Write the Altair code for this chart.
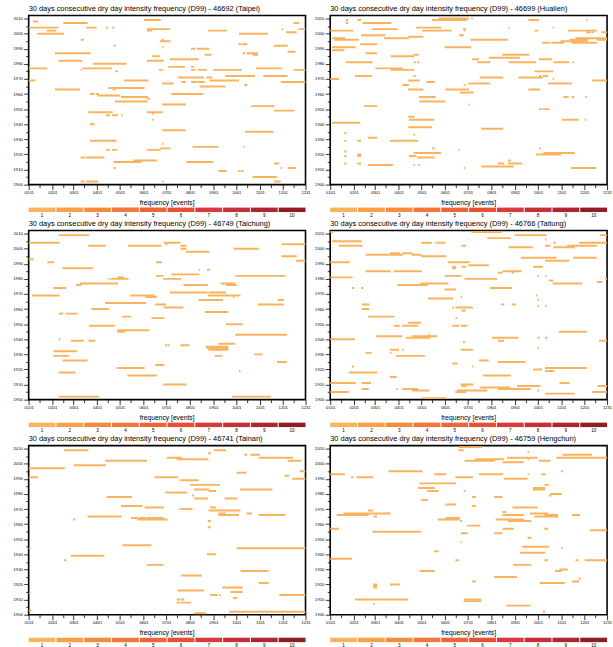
import altair as alt
import pandas as pd

FONT = "Liberation Sans"

# Calendar axis: first day of each month (day of year) and mid-month minor ticks
MONTH_DAYS = [1, 32, 60, 91, 121, 152, 182, 213, 244, 274, 305, 335, 365]
MONTH_LABELS = ["0101", "0201", "0301", "0401", "0501", "0601", "0701",
                "0801", "0901", "1001", "1101", "1201", "1231"]
MID_DAYS = [15, 46, 74, 105, 135, 166, 196, 227, 258, 288, 319, 349]
YEAR_TICKS = list(range(1900, 2011, 5))

# Frequency colour bar
LEVELS = list(range(1, 11))
LEVEL_COLORS = ["#fab35d", "#f89f47", "#f48b3f", "#f1773b", "#ed6438",
                "#e65036", "#d93a3b", "#c52f35", "#ae2530", "#8f1d22"]
BAR_COLOR = LEVEL_COLORS[0]

# Dry spells per station: (year, first day of year, last day of year)
TAIPEI = [
    (2009, 153, 174), (2008, 7, 13), (2007, 47, 78), (2007, 350, 356), (2004, 1, 40), (2004, 77, 90),
    (2004, 103, 105), (2004, 111, 113), (2003, 157, 186), (2003, 334, 335), (2003, 356, 365),
    (2002, 25, 37), (2002, 157, 163), (2002, 237, 261), (2001, 340, 353), (2000, 13, 47),
    (2000, 278, 315), (1996, 70, 73), (1996, 176, 178), (1995, 174, 187), (1993, 277, 280),
    (1993, 282, 288), (1992, 113, 115), (1992, 324, 341), (1991, 177, 178), (1990, 215, 220),
    (1990, 223, 238), (1988, 342, 351), (1987, 36, 82), (1987, 283, 285), (1987, 288, 302),
    (1986, 233, 241), (1986, 296, 302), (1985, 164, 173), (1983, 187, 224), (1982, 41, 71),
    (1982, 157, 178), (1980, 86, 129), (1978, 185, 206), (1978, 215, 218), (1977, 1, 25),
    (1977, 72, 110), (1977, 300, 334), (1976, 70, 71), (1976, 173, 177), (1976, 215, 220),
    (1976, 224, 235), (1976, 244, 281), (1976, 350, 365), (1975, 115, 118), (1972, 260, 298),
    (1972, 310, 341), (1971, 198, 231), (1971, 235, 242), (1969, 1, 9), (1969, 127, 158),
    (1969, 240, 277), (1968, 202, 207), (1968, 215, 222), (1968, 224, 232), (1968, 333, 365),
    (1967, 177, 191), (1966, 285, 288), (1965, 226, 259), (1964, 106, 108), (1964, 109, 153),
    (1963, 36, 68), (1963, 112, 115), (1960, 82, 87), (1960, 90, 93), (1960, 189, 230),
    (1959, 92, 121), (1958, 123, 157), (1957, 157, 160), (1955, 115, 157), (1953, 177, 207),
    (1952, 294, 324), (1949, 324, 350), (1948, 80, 111), (1948, 157, 177), (1947, 164, 165),
    (1946, 103, 107), (1946, 111, 118), (1946, 123, 124), (1943, 164, 165), (1940, 82, 87),
    (1936, 177, 207), (1935, 286, 322), (1929, 82, 116), (1927, 177, 178), (1925, 217, 250),
    (1925, 284, 285), (1924, 174, 187), (1923, 103, 107), (1923, 111, 117), (1923, 157, 174),
    (1918, 70, 75), (1918, 77, 100), (1916, 139, 169), (1915, 113, 149), (1915, 209, 243),
    (1914, 324, 330), (1911, 113, 115), (1911, 333, 334), (1911, 342, 352), (1909, 251, 261),
    (1909, 277, 279), (1909, 281, 283), (1905, 296, 327), (1902, 70, 74), (1902, 77, 92),
    (1902, 177, 178), (1902, 324, 332),
]

HUALIEN = [
    (2010, 144, 183), (2010, 187, 188), (2009, 22, 24), (2009, 37, 41), (2009, 135, 180),
    (2009, 262, 275), (2009, 338, 339), (2007, 22, 24), (2007, 44, 81), (2004, 114, 147),
    (2004, 235, 236), (2004, 294, 295), (2003, 56, 89), (2003, 176, 179), (2002, 1, 31),
    (2002, 122, 160), (2002, 177, 178), (2002, 270, 274), (2002, 314, 351), (2001, 338, 343),
    (2001, 345, 347), (2001, 358, 365), (1999, 42, 73), (1999, 171, 176), (1998, 104, 123),
    (1997, 4, 20), (1997, 72, 104), (1997, 324, 365), (1996, 7, 38), (1996, 186, 234),
    (1996, 316, 340), (1996, 352, 365), (1995, 304, 339), (1994, 280, 289), (1994, 292, 308),
    (1994, 319, 351), (1993, 41, 62), (1991, 4, 34), (1991, 152, 186), (1989, 4, 19),
    (1987, 48, 62), (1986, 111, 113), (1986, 114, 117), (1986, 228, 262), (1985, 81, 111),
    (1984, 210, 250), (1983, 188, 196), (1983, 276, 292), (1981, 22, 56), (1981, 111, 113),
    (1981, 116, 118), (1981, 195, 211), (1981, 236, 271), (1981, 295, 315), (1981, 320, 321),
    (1977, 61, 96), (1976, 81, 111), (1975, 270, 294), (1972, 34, 55), (1972, 111, 113),
    (1972, 276, 278), (1972, 281, 287), (1971, 198, 228), (1971, 249, 280), (1970, 1, 12),
    (1970, 294, 295), (1969, 104, 118), (1969, 346, 365), (1968, 128, 138), (1967, 183, 211),
    (1967, 288, 318), (1966, 96, 104), (1966, 177, 178), (1963, 104, 123), (1963, 153, 183),
    (1963, 262, 276), (1961, 172, 189), (1958, 118, 139), (1958, 308, 314), (1958, 319, 321),
    (1958, 337, 338), (1955, 119, 152), (1953, 183, 184), (1952, 46, 62), (1950, 276, 279),
    (1950, 281, 289), (1945, 104, 111), (1943, 105, 137), (1943, 306, 327), (1943, 336, 337),
    (1941, 4, 40), (1938, 104, 134), (1937, 200, 228), (1934, 20, 22), (1933, 111, 112),
    (1931, 51, 62), (1929, 20, 22), (1929, 37, 41), (1929, 80, 116), (1924, 135, 138),
    (1924, 276, 278), (1923, 170, 171), (1922, 20, 22), (1921, 111, 146), (1921, 282, 322),
    (1920, 37, 41), (1920, 272, 304), (1919, 20, 22), (1919, 37, 41), (1919, 105, 114),
    (1918, 116, 138), (1916, 235, 238), (1914, 20, 22), (1914, 37, 41), (1914, 222, 229),
    (1914, 235, 253), (1913, 51, 83), (1913, 111, 112), (1913, 117, 118), (1912, 200, 242),
    (1911, 177, 178), (1911, 318, 350),
]

TAICHUNG = [
    (2009, 41, 80), (2004, 1, 41), (2004, 179, 200), (2003, 181, 183), (2003, 334, 365),
    (2002, 80, 102), (2002, 132, 175), (2002, 201, 208), (2000, 201, 208), (2000, 271, 303),
    (1998, 208, 238), (1995, 334, 353), (1993, 1, 7), (1992, 353, 365), (1991, 26, 34),
    (1991, 169, 176), (1987, 46, 85), (1986, 225, 226), (1986, 236, 239), (1983, 189, 225),
    (1982, 169, 178), (1982, 273, 338), (1981, 118, 126), (1980, 106, 107), (1980, 109, 132),
    (1980, 178, 201), (1977, 69, 118), (1977, 254, 272), (1976, 64, 70), (1976, 205, 236),
    (1976, 261, 274), (1974, 34, 50), (1971, 187, 236), (1971, 238, 260), (1969, 6, 41),
    (1969, 135, 166), (1969, 237, 279), (1968, 155, 169), (1968, 270, 271), (1966, 225, 256),
    (1966, 329, 336), (1964, 102, 155), (1963, 168, 181), (1963, 303, 336), (1961, 179, 202),
    (1961, 203, 204), (1960, 84, 106), (1958, 233, 263), (1957, 41, 46), (1957, 50, 65),
    (1955, 124, 135), (1954, 163, 179), (1950, 261, 282), (1949, 81, 114), (1946, 118, 159),
    (1945, 118, 127), (1943, 273, 340), (1940, 41, 42), (1939, 57, 73), (1939, 80, 88),
    (1937, 251, 272), (1936, 181, 183), (1936, 185, 186), (1936, 201, 212), (1935, 234, 263),
    (1934, 236, 263), (1933, 238, 263), (1932, 34, 64), (1930, 298, 308), (1929, 34, 54),
    (1929, 246, 255), (1926, 46, 78), (1925, 328, 340), (1923, 168, 179), (1921, 117, 153),
    (1919, 278, 279), (1918, 41, 62), (1916, 131, 169), (1910, 178, 208), (1902, 41, 93),
    (1902, 269, 319),
]

TAITUNG = [
    (2011, 1, 4), (2011, 187, 226), (2009, 244, 285), (2009, 356, 365), (2007, 208, 238),
    (2006, 284, 285), (2005, 4, 42), (2004, 121, 134), (2004, 139, 140), (2004, 142, 152),
    (2004, 295, 297), (2004, 329, 365), (2002, 13, 43), (2002, 174, 179), (2002, 284, 290),
    (2002, 313, 351), (2001, 236, 267), (2001, 295, 322), (1997, 80, 92), (1997, 96, 109),
    (1996, 48, 96), (1996, 109, 121), (1995, 121, 153), (1994, 252, 298), (1994, 321, 351),
    (1992, 284, 315), (1991, 1, 26), (1991, 156, 184), (1989, 183, 209), (1988, 162, 166),
    (1988, 174, 179), (1988, 268, 280), (1987, 162, 166), (1985, 48, 80), (1985, 85, 121),
    (1985, 228, 252), (1984, 222, 227), (1984, 240, 242), (1982, 152, 173), (1982, 274, 275),
    (1982, 284, 285), (1981, 1, 30), (1980, 178, 220), (1980, 363, 365), (1979, 289, 294),
    (1978, 352, 358), (1977, 120, 156), (1977, 294, 332), (1976, 90, 129), (1974, 30, 32),
    (1974, 42, 44), (1974, 211, 239), (1973, 152, 166), (1969, 272, 273), (1968, 173, 174),
    (1967, 130, 162), (1966, 274, 275), (1963, 43, 52), (1963, 226, 229), (1963, 240, 245),
    (1962, 274, 275), (1962, 284, 285), (1961, 162, 163), (1961, 166, 188), (1960, 43, 52),
    (1959, 174, 179), (1955, 51, 85), (1954, 166, 168), (1951, 104, 120), (1949, 85, 92),
    (1949, 96, 116), (1949, 162, 170), (1949, 173, 181), (1945, 302, 338), (1943, 130, 131),
    (1942, 62, 95), (1942, 109, 141), (1941, 101, 132), (1941, 214, 248), (1941, 274, 276),
    (1941, 284, 286), (1940, 1, 33), (1939, 222, 229), (1939, 355, 365), (1938, 176, 178),
    (1934, 274, 275), (1933, 80, 91), (1933, 96, 97), (1933, 173, 188), (1931, 48, 55),
    (1931, 80, 81), (1929, 88, 125), (1926, 197, 209), (1925, 222, 257), (1924, 162, 168),
    (1922, 30, 32), (1922, 188, 189), (1921, 284, 338), (1920, 268, 279), (1919, 284, 295),
    (1918, 26, 62), (1916, 202, 238), (1915, 80, 88), (1911, 1, 34), (1911, 43, 54),
    (1911, 303, 315), (1910, 173, 189), (1909, 174, 180), (1909, 247, 277), (1909, 353, 365),
    (1908, 198, 237), (1907, 43, 51), (1907, 88, 89), (1907, 96, 116), (1907, 222, 264),
    (1906, 109, 131), (1906, 168, 207), (1906, 274, 275), (1905, 1, 25), (1905, 166, 172),
    (1905, 173, 179), (1905, 346, 365), (1904, 284, 322), (1901, 121, 153),
]

TAINAN = [
    (2009, 48, 79), (2009, 245, 260), (2007, 237, 240), (2006, 285, 288), (2006, 293, 305),
    (2004, 183, 202), (2004, 304, 348), (2003, 196, 237), (2002, 102, 156), (2002, 342, 359),
    (1999, 61, 102), (1997, 1, 48), (1995, 358, 365), (1994, 275, 287), (1992, 338, 343),
    (1991, 1, 13), (1991, 167, 197), (1990, 348, 365), (1989, 199, 200), (1989, 202, 224),
    (1986, 214, 252), (1983, 219, 238), (1983, 279, 321), (1982, 238, 247), (1981, 181, 209),
    (1979, 216, 218), (1978, 104, 136), (1977, 219, 236), (1977, 259, 275), (1972, 123, 150),
    (1971, 154, 178), (1971, 240, 247), (1970, 199, 200), (1970, 202, 216), (1969, 238, 279),
    (1967, 288, 294), (1967, 251, 260), (1966, 251, 277), (1966, 304, 338), (1965, 79, 123),
    (1964, 136, 144), (1964, 146, 155), (1964, 157, 178), (1963, 60, 62), (1963, 144, 183),
    (1962, 237, 240), (1958, 237, 240), (1946, 125, 162), (1944, 1, 3), (1944, 275, 365),
    (1940, 236, 247), (1939, 57, 100), (1936, 48, 50), (1933, 157, 178), (1929, 280, 316),
    (1926, 202, 228), (1921, 304, 316), (1918, 256, 282), (1916, 197, 231), (1915, 267, 282),
    (1914, 1, 3), (1913, 240, 249), (1913, 252, 253), (1913, 331, 365), (1911, 270, 275),
    (1910, 196, 200), (1910, 202, 205), (1908, 196, 200), (1908, 202, 214), (1903, 1, 4),
    (1902, 265, 365), (1901, 219, 234),
]

HENGCHUN = [
    (2011, 170, 200), (2009, 170, 176), (2008, 261, 262), (2006, 307, 345), (2004, 234, 273),
    (2004, 299, 365), (2003, 192, 229), (2003, 261, 262), (2002, 178, 217), (2002, 276, 290),
    (2001, 228, 255), (1995, 78, 122), (1995, 305, 307), (1993, 1, 20), (1993, 138, 153),
    (1993, 197, 228), (1993, 261, 262), (1993, 279, 284), (1991, 29, 31), (1991, 36, 57),
    (1991, 166, 188), (1990, 230, 260), (1987, 119, 166), (1986, 283, 288), (1984, 117, 138),
    (1984, 268, 283), (1983, 268, 283), (1982, 129, 143), (1982, 177, 178), (1980, 291, 305),
    (1979, 289, 291), (1978, 188, 192), (1978, 217, 227), (1976, 121, 129), (1973, 153, 166),
    (1972, 188, 192), (1971, 241, 273), (1969, 51, 57), (1968, 228, 232), (1967, 19, 80),
    (1967, 264, 287), (1966, 10, 51), (1966, 228, 255), (1966, 283, 300), (1966, 319, 329),
    (1965, 58, 62), (1965, 270, 300), (1964, 153, 171), (1963, 143, 171), (1963, 219, 255),
    (1962, 172, 174), (1962, 235, 265), (1959, 181, 198), (1957, 1, 12), (1957, 228, 242),
    (1957, 283, 287), (1956, 343, 365), (1955, 57, 120), (1954, 173, 181), (1954, 217, 227),
    (1951, 261, 265), (1948, 173, 174), (1945, 254, 288), (1944, 305, 306), (1942, 138, 143),
    (1941, 251, 283), (1937, 1, 29), (1936, 166, 170), (1936, 283, 287), (1936, 324, 327),
    (1936, 336, 365), (1933, 242, 265), (1930, 303, 313), (1929, 297, 305), (1929, 119, 138),
    (1925, 217, 246), (1924, 328, 330), (1922, 188, 192), (1922, 319, 328), (1921, 277, 309),
    (1920, 58, 62), (1920, 80, 92), (1919, 58, 62), (1918, 58, 62), (1910, 34, 103),
    (1910, 177, 199), (1909, 177, 199), (1907, 58, 59), (1906, 233, 264), (1902, 281, 283),
]

STATIONS = [
    ("46692", "Taipei", TAIPEI), ("46699", "Hualien", HUALIEN),
    ("46749", "Taichung", TAICHUNG), ("46766", "Taitung", TAITUNG),
    ("46741", "Tainan", TAINAN), ("46759", "Hengchun", HENGCHUN),
]

PLOT_W, PLOT_H = 280, 171

x_major = f"indexof({MONTH_DAYS}, datum.value) >= 0"
x_axis = alt.Axis(
    title=None, values=MONTH_DAYS + MID_DAYS,
    labelExpr=f"{x_major} ? {MONTH_LABELS}[indexof({MONTH_DAYS}, datum.value)] : ''",
    tickSize={"condition": {"test": x_major, "value": 5}, "value": 3},
    tickColor="black", tickWidth=0.8, domain=False, grid=False,
    labelFont=FONT, labelFontSize=4.2, labelPadding=1, labelAngle=0,
    labelOverlap=False, labelFlush=False, labelColor="black",
)
y_major = "datum.value % 10 == 0"
y_axis = alt.Axis(
    title=None, values=YEAR_TICKS,
    labelExpr=f"{y_major} ? datum.value : ''",
    tickSize={"condition": {"test": y_major, "value": 5}, "value": 3},
    tickColor="black", tickWidth=0.8, domain=False, grid=False,
    labelFont=FONT, labelFontSize=4.2, labelPadding=1.5,
    labelOverlap=False, labelFlush=False, labelColor="black",
)


def spell_chart(code, name, spells):
    df = pd.DataFrame(spells, columns=["year", "start", "end"])
    return alt.Chart(df).transform_calculate(
        x0="datum.start - 0.5", x1="datum.end + 0.5",
        y0="datum.year - 0.65", y1="datum.year + 0.65",
    ).mark_rect(color=BAR_COLOR, clip=True).encode(
        x=alt.X("x0:Q", scale=alt.Scale(domain=[1, 365], nice=False, zero=False), axis=x_axis),
        x2="x1:Q",
        y=alt.Y("y0:Q", scale=alt.Scale(domain=[1900, 2012], nice=False, zero=False), axis=y_axis),
        y2="y1:Q",
    ).properties(
        width=PLOT_W, height=PLOT_H,
        title=alt.TitleParams(
            f"30 days consecutive dry day intensity frequency (D99)  - {code} ({name})",
            anchor="start", frame="group", font=FONT, fontSize=7.5, fontWeight="normal",
            color="black", baseline="alphabetic", offset=-2.5,
        ),
        view=alt.ViewBackground(stroke="black", strokeWidth=1.6),
    )


def colour_bar():
    # The upper band stays empty, which keeps the bar clear of the plot above it.
    cb = pd.DataFrame({"level": LEVELS, "band": ["bar"] * len(LEVELS)})
    return alt.Chart(cb).mark_rect().encode(
        x=alt.X("level:O", scale=alt.Scale(paddingInner=0.035, paddingOuter=0),
                axis=alt.Axis(title=None, ticks=False, domain=False, labelAngle=0,
                              labelFont=FONT, labelFontSize=4.6, labelPadding=0.5,
                              labelColor="black")),
        y=alt.Y("band:N", scale=alt.Scale(domain=["gap", "bar"], paddingInner=0, paddingOuter=0),
                axis=None),
        color=alt.Color("level:O", scale=alt.Scale(domain=LEVELS, range=LEVEL_COLORS), legend=None),
    ).properties(
        width=PLOT_W, height=9,
        title=alt.TitleParams(
            "frequency  [events]", anchor="middle", font=FONT, fontSize=6.8,
            fontWeight="normal", color="black", baseline="alphabetic", offset=-8.5,
        ),
        view=alt.ViewBackground(stroke="transparent"),
    )


cells = []
for i in range(0, len(STATIONS), 2):
    cells += [spell_chart(*STATIONS[i]), spell_chart(*STATIONS[i + 1]), colour_bar(), colour_bar()]

chart = alt.concat(
    *cells, columns=2, spacing={"row": 18.75, "column": 25}, bounds="flush"
).properties(
    padding={"left": 12, "top": 0, "right": 0, "bottom": 0},
    background="white",
).configure_view(strokeWidth=0)

chart.save("out.html", embed_options={"renderer": "svg", "actions": False})
